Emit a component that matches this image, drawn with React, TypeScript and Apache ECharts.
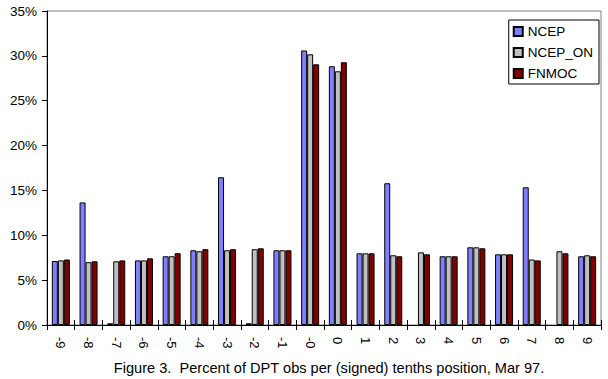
import React, { useEffect, useRef } from "react";
import * as echarts from "echarts";

const categories = ["-9", "-8", "-7", "-6", "-5", "-4", "-3", "-2", "-1", "-0", "0", "1", "2", "3", "4", "5", "6", "7", "8", "9"];
const ncep = [7.13, 13.66, 0.19, 7.2, 7.66, 8.33, 16.47, 0.19, 8.33, 30.6, 28.84, 7.99, 15.8, null, 7.66, 8.66, 7.88, 15.35, null, 7.66];
const ncepOn = [7.2, 7.0, 7.1, 7.2, 7.66, 8.22, 8.33, 8.45, 8.33, 30.17, 28.28, 7.99, 7.77, 8.1, 7.66, 8.66, 7.88, 7.3, 8.22, 7.77];
const fnmoc = [7.3, 7.1, 7.2, 7.43, 8.0, 8.45, 8.45, 8.55, 8.33, 29.06, 29.29, 7.99, 7.66, 7.88, 7.66, 8.55, 7.88, 7.2, 7.99, 7.66];
const titleText = "Figure 3.  Percent of DPT obs per (signed) tenths position, Mar 97.";

const FONT = "'Liberation Sans', Arial, Helvetica, sans-serif";

export default function App() {
  const ref = useRef<HTMLDivElement>(null);
  useEffect(() => {
    if (!ref.current) return;
    const chart = echarts.init(ref.current, undefined, { renderer: "svg" });
    const barStyle = (color: string) => ({ color, borderColor: "#000", borderWidth: 1 });
    chart.setOption({
      animation: false,
      backgroundColor: "#fff",
      textStyle: { fontFamily: FONT },
      title: {
        text: titleText,
        left: 324,
        textAlign: "center",
        top: 355,
        textStyle: { fontFamily: FONT, fontSize: 14.6, fontWeight: "normal", color: "#000" },
      },
      legend: {
        orient: "vertical",
        right: 9,
        top: 20,
        backgroundColor: "#fff",
        borderColor: "#000",
        borderWidth: 1,
        padding: [4, 6, 3, 4],
        itemWidth: 9,
        itemHeight: 9,
        itemGap: 6,
        icon: "rect",
        textStyle: { fontFamily: FONT, fontSize: 13.5, color: "#000", lineHeight: 15 },
        data: ["NCEP", "NCEP_ON", "FNMOC"],
      },
      grid: {
        left: 47,
        right: 7,
        top: 11,
        bottom: 54,
        show: true,
        borderColor: "#808080",
        borderWidth: 1,
      },
      xAxis: [
        {
          type: "category",
          data: categories,
          position: "bottom",
          axisLine: { lineStyle: { color: "#000", width: 1 } },
          axisTick: { show: true, length: 5, lineStyle: { color: "#000" } },
          axisLabel: { rotate: -90, margin: 12, fontFamily: FONT, fontSize: 13, color: "#000" },
          splitLine: { show: false },
        },
        {
          type: "category",
          data: categories,
          position: "bottom",
          offset: 0,
          axisLine: { show: false },
          axisTick: { show: true, inside: true, length: 5, lineStyle: { color: "#000" } },
          axisLabel: { show: false },
          splitLine: { show: false },
        },
      ],
      yAxis: {
        type: "value",
        min: 0,
        max: 35,
        interval: 5,
        axisLine: { show: true, lineStyle: { color: "#000", width: 1 } },
        axisTick: { show: true, length: 5, lineStyle: { color: "#000" } },
        axisLabel: { formatter: "{value}%", margin: 10, fontFamily: FONT, fontSize: 13.5, color: "#000" },
        splitLine: { show: false },
      },
      series: [
        { name: "NCEP", type: "bar", xAxisIndex: 0, data: ncep, itemStyle: barStyle("#8080FF"), barGap: "0%", barCategoryGap: "35%" },
        { name: "NCEP_ON", type: "bar", xAxisIndex: 0, data: ncepOn, itemStyle: barStyle("#C0C0C0"), barGap: "0%", barCategoryGap: "35%" },
        { name: "FNMOC", type: "bar", xAxisIndex: 0, data: fnmoc, itemStyle: barStyle("#800000"), barGap: "0%", barCategoryGap: "35%" },
      ],
    });
    return () => chart.dispose();
  }, []);
  return (
    <div
      ref={ref}
      style={{ position: "fixed", left: 0, top: 0, width: 608, height: 379, background: "#fff" }}
    />
  );
}
